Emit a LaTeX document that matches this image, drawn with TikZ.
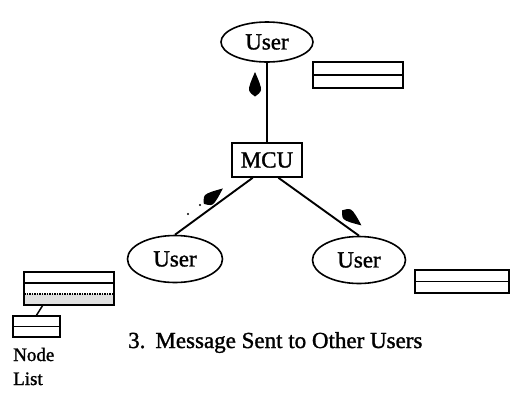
\documentclass[tikz,border=0pt]{standalone}
\usepackage{fontspec}
\setmainfont{Liberation Serif}[BoldFont=Liberation Serif, BoldFeatures={FakeBold=1.3}]
\usetikzlibrary{shapes.geometric,calc}

\tikzset{
  user/.style={draw, ellipse, line width=1.6pt, inner sep=0pt,
    font=\fontsize{23}{27}\selectfont\bfseries},
  link/.style={line width=1.9pt},
  bar/.style={draw, line width=1.5pt},
  label/.style={inner sep=0pt, anchor=base west},
  msgdrop/.pic={
    \fill (12,0) .. controls (4,3.5) and (-3,6.5) .. (-6,6)
      .. controls (-9,5.5) and (-11,1.8) .. (-12.5,0)
      .. controls (-11,-1.8) and (-9,-5.5) .. (-6,-6)
      .. controls (-3,-6.5) and (4,-3.5) .. cycle;
  }
}

\begin{document}
\begin{tikzpicture}[x=1pt, y=-1pt]
  \useasboundingbox (0,0) rectangle (516,392);

  % users and the MCU
  \node[user, minimum width=92pt, minimum height=40pt] (top) at (267,42) {User};
  \node[user, minimum width=95pt, minimum height=47pt] (ul) at (175,259) {User};
  \node[user, minimum width=93pt, minimum height=47pt] (ur) at (359,260) {User};
  \node[draw, line width=1.6pt, minimum width=70pt, minimum height=34pt,
        inner sep=0pt, font=\fontsize{23}{27}\selectfont\bfseries] (mcu) at (267,160) {MCU};

  % links
  \coordinate (mcuL) at ($(mcu.south west)!0.3!(mcu.south east)$);
  \coordinate (mcuR) at ($(mcu.south west)!0.66!(mcu.south east)$);
  \draw[link] (top.south) -- (mcu.north);
  \draw[link] (mcuL) -- (ul.north);
  \draw[link] (mcuR) -- (ur.north);

  % message markers
  \pic[rotate=90] at (255,84) {msgdrop};
  \pic[rotate=39] at (213.5,196) {msgdrop};
  \pic[rotate=-38] at (352,218) {msgdrop};
  \fill (200,205) circle (1.2pt);
  \fill (188,214) circle (1.2pt);

  % message buffers
  \node[bar, minimum width=90pt, minimum height=26pt, inner sep=0pt] (bufT) at (358,75) {};
  \draw[line width=1.2pt] (bufT.west) -- (bufT.east);
  \node[bar, minimum width=94pt, minimum height=23pt, inner sep=0pt] (bufR) at (462,281.5) {};
  \draw[line width=1.2pt] (bufR.west) -- (bufR.east);

  % node list
  \fill[black!12] (24,294) rectangle (114,305);
  \node[bar, minimum width=90pt, minimum height=33pt, inner sep=0pt] (list) at (69,288.5) {};
  \draw[line width=1.2pt] (24,283) -- (114,283);
  \draw[line width=1.5pt, densely dotted] (24,294) -- (114,294);
  \node[bar, minimum width=47pt, minimum height=21pt, inner sep=0pt] (entry) at (36.5,326.5) {};
  \draw[line width=1.2pt] (entry.west) -- (entry.east);
  \coordinate (listB) at ($(list.south west)!0.21!(list.south east)$);
  \draw[line width=1.5pt] (entry.north) -- (listB);

  \node[label, font=\fontsize{19}{23}\selectfont\bfseries] (lbl1) at (13,361) {Node};
  \node[label, font=\fontsize{19}{23}\selectfont\bfseries] (lbl2) at (13,385) {List};

  % caption
  \node[label, font=\fontsize{23}{27}\selectfont\bfseries] (cap) at (128,348)
    {3.\hspace{10pt}Message Sent to Other Users};
\end{tikzpicture}
\end{document}
